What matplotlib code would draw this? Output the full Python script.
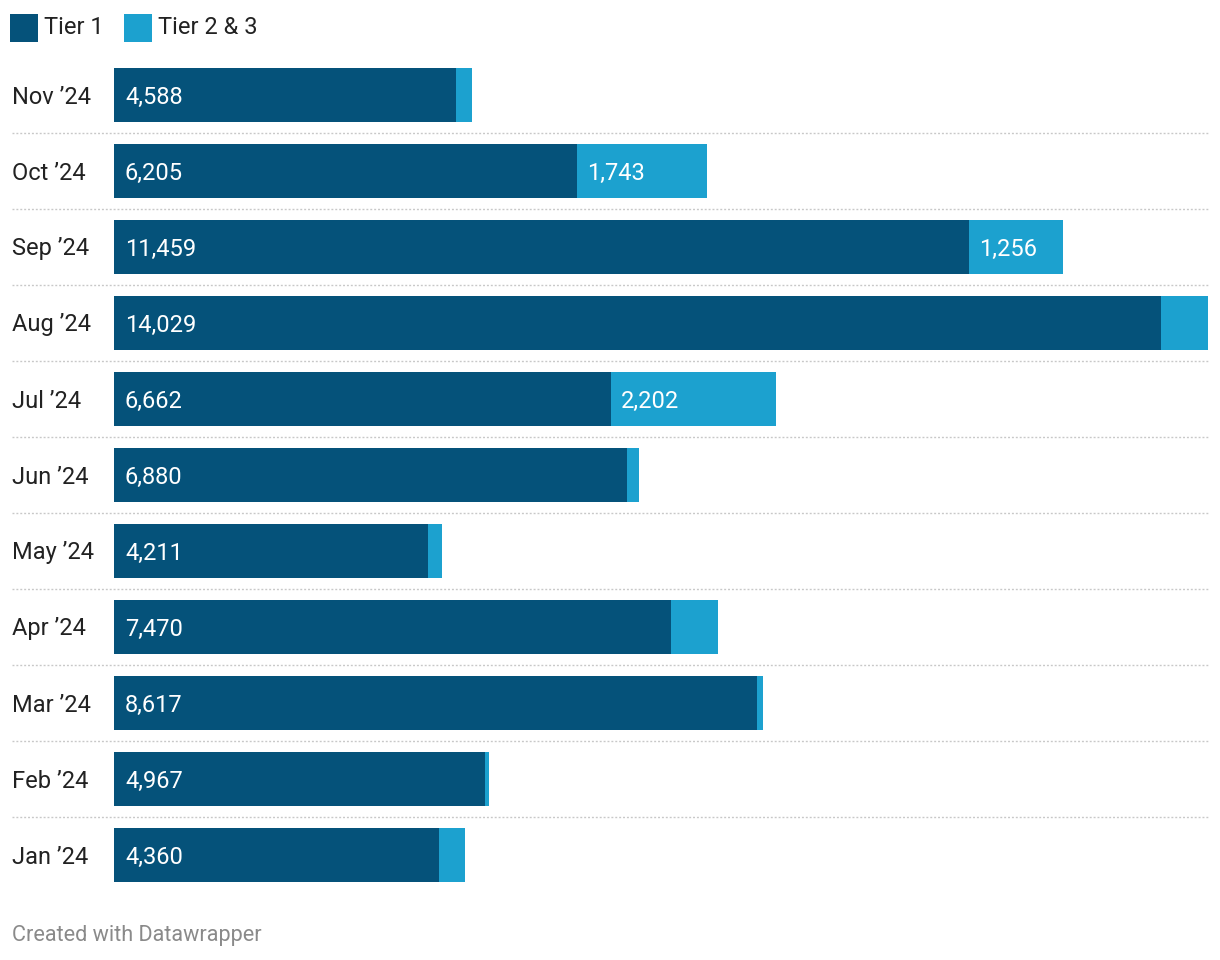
import matplotlib
matplotlib.use("Agg")
import matplotlib.pyplot as plt
from matplotlib.patches import Rectangle
from matplotlib.transforms import blended_transform_factory

plt.rcParams['font.family'] = ['Roboto', 'DejaVu Sans']

# data (bottom to top)
months = ["Jan \u201924", "Feb \u201924", "Mar \u201924", "Apr \u201924", "May \u201924", "Jun \u201924",
          "Jul \u201924", "Aug \u201924", "Sep \u201924", "Oct \u201924", "Nov \u201924"]
tier1 = [4360, 4967, 8617, 7470, 4211, 6880, 6662, 14029, 11459, 6205, 4588]
tier23 = [349, 54, 80, 617, 188, 161, 2202, 630, 1256, 1743, 215]
legend_labels = ["Tier 1", "Tier 2 & 3"]

c_dark = "#05527a"
c_light = "#1ca1cf"
txt = "#222222"

W, H = 1220, 960
fig = plt.figure(figsize=(W / 100, H / 100), dpi=100)

# axes placed in pixel coords
left, right, top, bottom = 114, 1208, 57, 893
ax = fig.add_axes([left / W, 1 - bottom / H, (right - left) / W, (bottom - top) / H])
ax.axis("off")

ypos = list(range(len(months)))
totals = [a + b for a, b in zip(tier1, tier23)]
ax.barh(ypos, tier1, height=54 / 76, color=c_dark, linewidth=0)
ax.barh(ypos, tier23, left=tier1, height=54 / 76, color=c_light, linewidth=0)
ax.set_xlim(0, max(totals))
ax.set_ylim(-0.5, len(months) - 0.5)

tr = blended_transform_factory(fig.transFigure, ax.transData)
for i, m in enumerate(months):
    ax.annotate(m, (12 / W, i), xycoords=tr, xytext=(0, -2), textcoords="offset pixels",
                ha="left", va="center", fontsize=17, color=txt)
    ax.annotate(f"{tier1[i]:,}", (0, i), xytext=(11, -2), textcoords="offset pixels",
                ha="left", va="center", fontsize=17, color="white")
    if tier23[i] >= 1000:
        ax.annotate(f"{tier23[i]:,}", (tier1[i], i), xytext=(10, -2), textcoords="offset pixels",
                    ha="left", va="center", fontsize=17, color="white")
    if i < len(months) - 1:
        ax.plot([12 / W, 1208 / W], [i + 0.5, i + 0.5], transform=tr, clip_on=False,
                color="#c8c8c8", lw=1.0, linestyle=(0, (1.4, 1.4)))

# legend
for x0, col, lab in [(10, c_dark, legend_labels[0]), (124, c_light, legend_labels[1])]:
    fig.patches.append(Rectangle((x0 / W, 1 - 42 / H), 28 / W, 28 / H,
                                 transform=fig.transFigure, color=col, linewidth=0))
    fig.text((x0 + 34) / W, 1 - 28 / H, lab, ha="left", va="center", fontsize=17, color=txt)

fig.text(12 / W, 1 - 936 / H, "Created with Datawrapper", ha="left", va="center",
         fontsize=15.6, color="#8a8a8a")

fig.savefig("out.png", dpi=100, facecolor="white")
